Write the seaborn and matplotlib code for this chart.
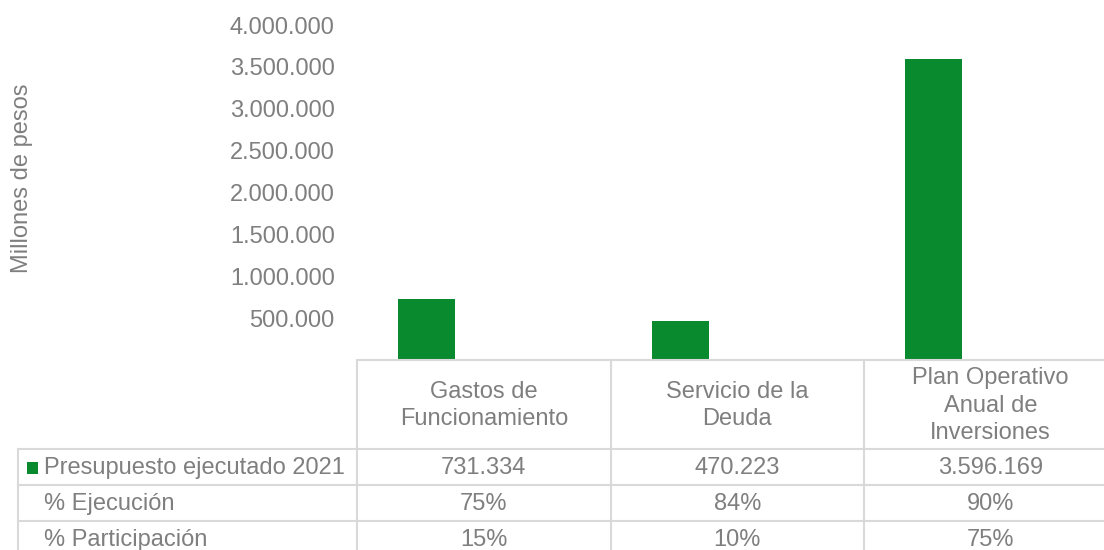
import matplotlib
matplotlib.use("Agg")
import matplotlib.pyplot as plt
import matplotlib.transforms as mtransforms
from matplotlib.lines import Line2D
from matplotlib.patches import Rectangle
from matplotlib.ticker import FuncFormatter
import seaborn as sns
import pandas as pd

# data
categories = ["Gastos de\nFuncionamiento", "Servicio de la\nDeuda", "Plan Operativo\nAnual de\nInversiones"]
presupuesto = [731334, 470223, 3596169]
ejecucion = [75, 84, 90]
participacion = [15, 10, 75]
row_labels = ["Presupuesto ejecutado 2021", "% Ejecución", "% Participación"]
y_ticks = [500000, 1000000, 1500000, 2000000, 2500000, 3000000, 3500000, 4000000]
y_label = "Millones de pesos"

GREEN = "#0a8a2e"
GRAY = "#7f7f7f"
LINE = "#d9d9d9"
FS = 17

sns.set_theme(style="white")
plt.rcParams["font.family"] = ["Liberation Sans", "DejaVu Sans"]

W, H = 1104, 550
fig = plt.figure(figsize=(W / 100, H / 100), dpi=100)
ax = fig.add_axes([357 / W, 190 / H, 760.5 / W, 335 / H])

df = pd.DataFrame({"categoria": categories, "valor": presupuesto})
sns.barplot(data=df, x="categoria", y="valor", color=GREEN, width=0.225,
            saturation=1, ax=ax)
# bars sit on the left of each category slot, like an Excel cluster
for p in ax.patches:
    p.set_x(p.get_x() - p.get_width())
    p.set_edgecolor("none")

ax.set_xlim(-0.5, len(categories) - 0.5)
ax.set_ylim(0, 4000000)
ax.set_yticks(y_ticks)
ax.yaxis.set_major_formatter(FuncFormatter(lambda v, _: f"{int(v):,}".replace(",", ".")))
ax.tick_params(axis="y", length=0, pad=16, labelsize=FS, labelcolor=GRAY)
ax.set_xticks([])
ax.set_xlabel("")
ax.set_ylabel("")
for s in ax.spines.values():
    s.set_visible(False)

fig.text(22 / W, 1 - 178 / H, y_label, rotation=90, ha="center", va="center",
         color=GRAY, fontsize=FS)

# data table under the bars
tr = mtransforms.blended_transform_factory(ax.transData, fig.transFigure)
figtr = fig.transFigure
fy = lambda py: 1 - py / H

top, head_bot = 360, 449
row_h = 36
row_bounds = [head_bot + i * row_h for i in range(len(row_labels) + 1)]
n = len(categories)
x_left_lbl = 18 / W


def hline(py, x0_fig=None):
    if x0_fig is not None:
        fig.add_artist(Line2D([x0_fig, 357 / W], [fy(py), fy(py)], transform=figtr,
                              color=LINE, lw=1.5))
    fig.add_artist(Line2D([-0.5, n - 0.5], [fy(py), fy(py)], transform=tr,
                          color=LINE, lw=1.5))


hline(top)
for py in row_bounds[:-1]:
    hline(py, x_left_lbl)

for i in range(n + 1):
    fig.add_artist(Line2D([i - 0.5, i - 0.5], [fy(top), fy(H + 10)], transform=tr,
                          color=LINE, lw=1.5))
fig.add_artist(Line2D([x_left_lbl, x_left_lbl], [fy(head_bot), fy(H + 10)],
                      transform=figtr, color=LINE, lw=1.5))

for i, cat in enumerate(categories):
    fig.text(i, fy((top + head_bot) / 2 + 1), cat, transform=tr, ha="center", va="center",
             color=GRAY, fontsize=FS, linespacing=1.33)

cells = [
    [f"{v:,}".replace(",", ".") for v in presupuesto],
    [f"{v}%" for v in ejecucion],
    [f"{v}%" for v in participacion],
]
for r, (lab, vals) in enumerate(zip(row_labels, cells)):
    yc = fy((row_bounds[r] + row_bounds[r + 1]) / 2 + 1)
    fig.text(44 / W, yc, lab, ha="left", va="center", color=GRAY, fontsize=FS)
    for i, v in enumerate(vals):
        fig.text(i, yc, v, transform=tr, ha="center", va="center", color=GRAY, fontsize=FS)

# legend key in the first row
yc0 = (row_bounds[0] + row_bounds[1]) / 2 + 1
fig.add_artist(Rectangle((27 / W, fy(yc0 + 6)), 11 / W, 12 / H, transform=figtr,
                         color=GREEN, lw=0))

fig.savefig("out.png", dpi=100)
